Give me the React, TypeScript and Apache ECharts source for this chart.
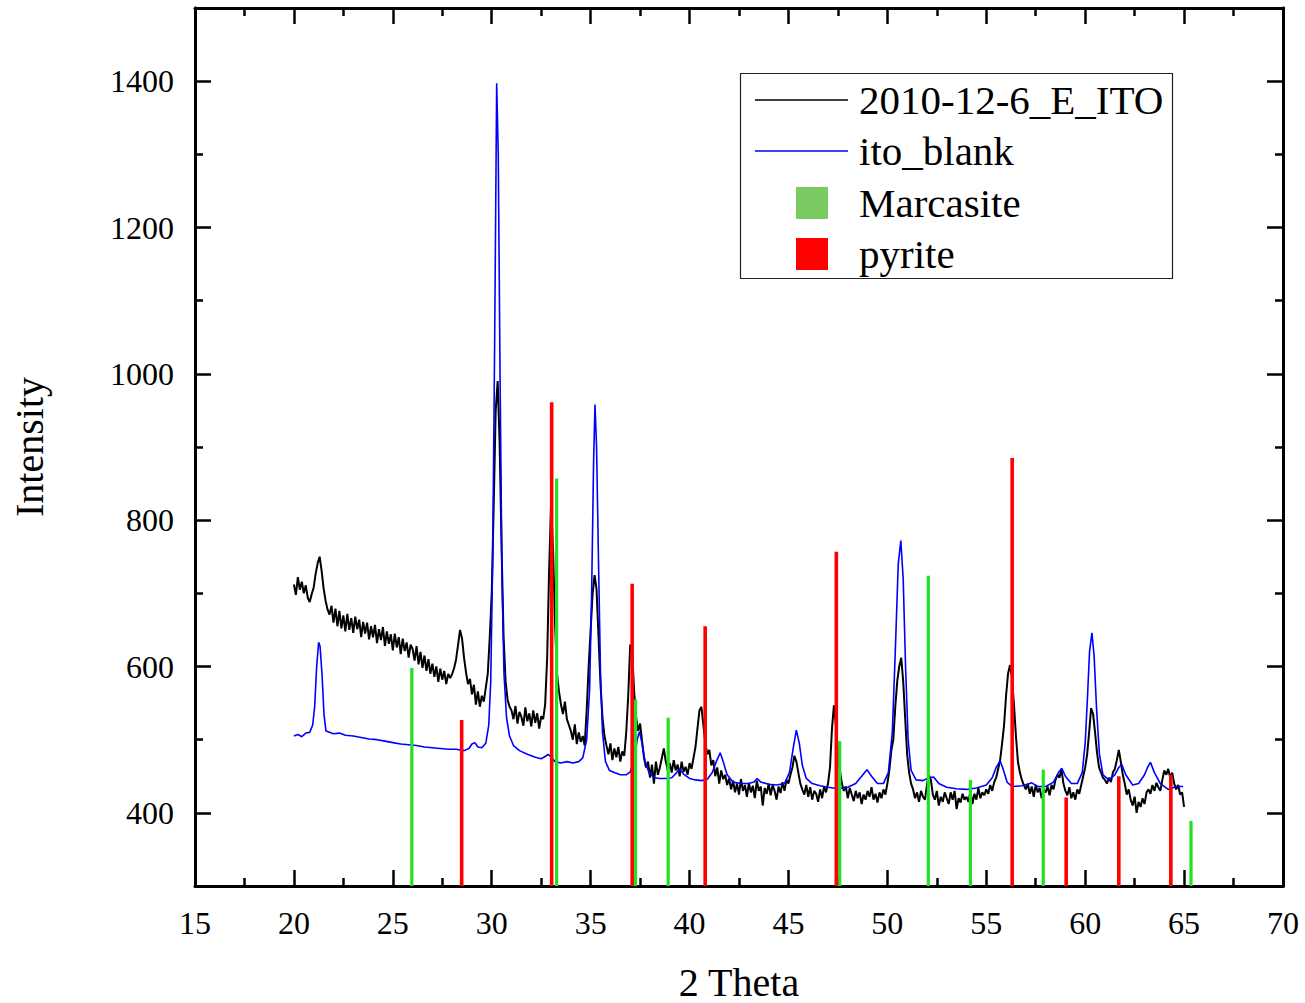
import React, { useEffect, useRef } from "react";
import * as echarts from "echarts";

// ---- Data ----
// Black sample curve: intensities on a uniform 2θ grid (start 20.0, step 0.1)
const sampleName = "2010-12-6_E_ITO";
const sampleStart = 20.0;
const sampleStep = 0.1;
const sampleY = [
  712, 698, 722, 705, 716, 700, 711, 694, 688, 699,
  708, 727, 741, 750, 731, 707, 690, 678, 671, 683,
  660, 679, 655, 676, 652, 670, 648, 672, 650, 666,
  646, 668, 651, 664, 640, 661, 645, 660, 637, 655,
  640, 657, 632, 651, 636, 654, 628, 648, 631, 644,
  622, 645, 626, 640, 617, 638, 621, 633, 612, 630,
  624, 608, 628, 603, 620, 598, 615, 594, 610, 590,
  604, 586, 600, 579, 597, 582, 594, 576, 590, 584,
  590, 598, 610, 630, 650, 638, 612, 592, 576, 583,
  562, 575, 548, 566, 545, 560, 552, 571, 590, 640,
  700, 820, 950, 990, 905, 760, 640, 580, 555, 545,
  540, 528, 546, 522, 538, 531, 519, 544, 525, 536,
  518, 540, 523, 536, 515, 532, 528, 548, 610, 730,
  822, 760, 660, 590, 566, 548, 535, 552, 528, 520,
  512, 500, 521, 494, 510, 497, 505, 492, 540, 600,
  650, 700, 725, 705, 640, 575, 530, 505, 492, 480,
  495, 472, 488, 476, 490, 470, 484, 478, 510, 560,
  630, 620, 565, 530, 512, 522, 498, 475, 462, 470,
  448, 466, 440, 470, 452, 462, 475, 488, 470, 458,
  468, 455, 472, 458, 466, 450, 470, 456, 463, 452,
  468, 460, 475, 490, 515, 540, 545, 520, 495, 480,
  486, 465, 472, 450, 462, 440, 458, 446, 452, 438,
  447, 432, 444, 428, 440, 425, 446, 430, 438, 422,
  441, 428, 437, 420, 444, 430, 436, 410, 434, 426,
  440, 424, 438, 430, 418, 436, 427, 442, 430, 445,
  440, 452, 462, 478, 470, 455, 440, 432, 425, 438,
  422, 435, 418, 430, 426, 415, 432, 420, 436, 428,
  440, 462, 515, 547, 520, 482, 458, 440, 430, 436,
  420, 434, 425, 416, 430, 420, 428, 412, 425, 418,
  430, 422, 435, 418, 426, 414, 428, 420, 432, 425,
  440, 458, 485, 500, 545, 580, 600, 612, 580, 530,
  480, 455, 440, 432, 420, 428, 415, 430, 422, 418,
  438, 452, 445, 425, 418, 430, 410, 422, 415, 428,
  420, 412, 428, 418, 430, 405, 420, 414, 426, 418,
  422, 415, 430, 412, 426, 418, 434, 420, 428, 424,
  432, 426, 438, 430, 442, 448, 460, 472, 495, 520,
  560, 590, 602, 585, 548, 505, 470, 455, 445, 438,
  432, 440, 426, 436, 422, 438, 428, 434, 420, 432,
  428, 436, 424, 438, 432, 445, 452, 448, 460, 440,
  430, 424, 435, 420, 428, 418, 432, 426, 438, 450,
  462, 480, 510, 543, 535, 510, 482, 462, 455, 448,
  445, 440, 448, 442, 455, 460, 472, 486, 470, 452,
  440, 425, 432, 418, 410, 422, 400, 415, 408, 420,
  412, 428, 432, 426, 438, 430, 441, 435, 430, 445,
  458, 452, 460, 448, 455, 440, 432, 438, 425, 428,
  408,
];

// Blue blank curve: [2θ, intensity]
const blankName = "ito_blank";
const blankData: [number, number][] = [
  [20.0, 505], [20.2, 507], [20.4, 504], [20.6, 509], [20.8, 510], [20.95, 520],
  [21.05, 545], [21.15, 600], [21.25, 633], [21.32, 628], [21.42, 590], [21.52, 535],
  [21.62, 512], [21.8, 510], [22.0, 508], [22.3, 509], [22.6, 506], [23.0, 505],
  [23.4, 503], [23.8, 501], [24.2, 500], [24.6, 498], [25.0, 496], [25.4, 494],
  [25.8, 493], [26.2, 492], [26.6, 490], [27.0, 489], [27.4, 488], [27.8, 487],
  [28.2, 487], [28.6, 485], [28.85, 488], [29.0, 494], [29.15, 496], [29.3, 490],
  [29.5, 489], [29.7, 495], [29.85, 520], [29.95, 580], [30.05, 750], [30.15, 1050],
  [30.25, 1397], [30.33, 1300], [30.42, 1000], [30.52, 720], [30.62, 590], [30.75, 530],
  [30.9, 505], [31.1, 492], [31.4, 485], [31.8, 480], [32.2, 476], [32.5, 474],
  [32.7, 477], [32.85, 480], [33.0, 476], [33.2, 470], [33.5, 468], [33.8, 470],
  [34.1, 468], [34.4, 470], [34.6, 475], [34.8, 500], [34.95, 570], [35.05, 700],
  [35.15, 880], [35.22, 958], [35.3, 900], [35.4, 740], [35.5, 590], [35.6, 510],
  [35.75, 470], [35.95, 458], [36.2, 455], [36.5, 452], [36.8, 452], [37.0, 456],
  [37.2, 470], [37.35, 500], [37.47, 511], [37.6, 495], [37.75, 470], [37.95, 455],
  [38.2, 448], [38.5, 447], [38.8, 447], [39.1, 448], [39.35, 455], [39.5, 460],
  [39.7, 453], [40.0, 447], [40.3, 445], [40.6, 444], [40.9, 446], [41.15, 455],
  [41.35, 470], [41.55, 482], [41.7, 470], [41.9, 452], [42.2, 442], [42.6, 440],
  [43.0, 440], [43.25, 442], [43.42, 447], [43.6, 442], [44.0, 439], [44.4, 438],
  [44.8, 440], [45.05, 455], [45.25, 490], [45.4, 513], [45.55, 495], [45.7, 465],
  [45.9, 447], [46.2, 440], [46.6, 437], [47.0, 435], [47.5, 433], [48.0, 435],
  [48.4, 440], [48.7, 450], [48.97, 459], [49.2, 450], [49.5, 440], [49.8, 440],
  [50.05, 455], [50.25, 510], [50.4, 620], [50.55, 740], [50.68, 772], [50.8, 720],
  [50.92, 600], [51.05, 500], [51.2, 458], [51.45, 445], [51.8, 444], [52.1, 448],
  [52.34, 449], [52.6, 440], [53.0, 435], [53.5, 433], [54.0, 432], [54.5, 434],
  [55.0, 438], [55.3, 448], [55.5, 462], [55.7, 471], [55.85, 460], [56.05, 442],
  [56.3, 436], [56.8, 437], [57.1, 439], [57.3, 441], [57.6, 436], [58.0, 436],
  [58.4, 442], [58.65, 455], [58.82, 461], [59.0, 450], [59.3, 440], [59.6, 440],
  [59.85, 455], [60.0, 495], [60.12, 560], [60.22, 620], [60.34, 646], [60.45, 615],
  [60.58, 540], [60.72, 480], [60.9, 452], [61.2, 445], [61.5, 452], [61.7, 462],
  [61.85, 466], [62.05, 452], [62.4, 438], [62.7, 440], [63.0, 452], [63.15, 462],
  [63.3, 469], [63.5, 455], [63.8, 440], [64.2, 432], [64.6, 436], [64.95, 436],
];

// Reference patterns (stick positions and heights)
const marcasiteName = "Marcasite";
const marcasiteX = [25.96, 33.28, 37.27, 38.92, 47.59, 52.07, 54.2, 57.88, 65.35];
const marcasiteY = [598, 857, 555, 530, 498, 724, 445, 459, 389];

const pyriteName = "pyrite";
const pyriteX = [28.48, 33.03, 37.1, 40.79, 47.42, 56.31, 59.04, 61.7, 64.33];
const pyriteY = [527, 961, 713, 655, 757, 885, 421, 450, 452];

// Axis settings
const xMin = 15;
const xMax = 70;
const xInterval = 5;
const yMin = 300;
const yMax = 1500;
const yMajorTicks = [400, 600, 800, 1000, 1200, 1400];
const yMinorTicks = [300, 500, 700, 900, 1100, 1300, 1500];

const FONT = "Liberation Serif";

export default function App() {
  const ref = useRef<HTMLDivElement>(null);

  useEffect(() => {
    document.body.style.margin = "0";
    document.body.style.overflow = "hidden";
    if (!ref.current) return;
    const chart = echarts.init(ref.current, null, { renderer: "svg" });

    const sampleData = sampleY.map((y, i) => [
      +(sampleStart + i * sampleStep).toFixed(2),
      y,
    ]);
    const marcData = marcasiteX.map((x, i) => [x, marcasiteY[i]]);
    const pyrData = pyriteX.map((x, i) => [x, pyriteY[i]]);

    const stickRender = (width: number) => (params: any, api: any) => {
      const x = api.value(0);
      const y = api.value(1);
      const top = api.coord([x, y]);
      const bottom = api.coord([x, yMin]);
      return {
        type: "rect",
        shape: {
          x: top[0] - width / 2,
          y: top[1],
          width: width,
          height: bottom[1] - top[1],
        },
        style: { fill: api.visual("color") },
      };
    };

    const tickStyle = { color: "#000", width: 2.5 };
    const axisLine = { show: true, onZero: false, lineStyle: { color: "#000", width: 3 } };
    const plainNum = (v: number) => String(v);
    const labelStyle = {
      show: true,
      fontSize: 32,
      color: "#000",
      fontFamily: FONT,
      formatter: plainNum,
    };
    const lineIcon = "path://M0,0 L93,0 L93,1.6 L0,1.6 Z";

    const yBase = {
      type: "value" as const,
      min: yMin,
      max: yMax,
      splitLine: { show: false },
      axisLine,
    };

    const option: any = {
      animation: false,
      backgroundColor: "#fff",
      textStyle: { fontFamily: FONT },
      grid: {
        left: 195,
        top: 8,
        width: 1088,
        height: 878,
        containLabel: false,
        outerBoundsMode: "none",
      },
      legend: [
        {
          left: 750,
          top: 73,
          orient: "vertical",
          itemWidth: 93,
          itemHeight: 44,
          itemGap: 7,
          selectedMode: false,
          data: [
            { name: sampleName, icon: lineIcon, itemStyle: { color: "#000" } },
            { name: blankName, icon: lineIcon, itemStyle: { color: "#0000ff" } },
          ],
          textStyle: {
            fontFamily: FONT,
            fontSize: 41,
            color: "#000",
            lineHeight: 44,
            padding: [0, 0, 0, 6],
          },
        },
        {
          left: 791,
          top: 176,
          orient: "vertical",
          itemWidth: 32,
          itemHeight: 32,
          itemGap: 7,
          selectedMode: false,
          data: [
            { name: marcasiteName, icon: "rect", itemStyle: { color: "#7acb62" } },
            { name: pyriteName, icon: "rect", itemStyle: { color: "#ff0000" } },
          ],
          textStyle: {
            fontFamily: FONT,
            fontSize: 41,
            color: "#000",
            lineHeight: 44,
            padding: [0, 0, 0, 26],
          },
        },
      ],
      graphic: [
        {
          type: "rect",
          shape: { x: 740.5, y: 73.5, width: 432, height: 205 },
          style: { fill: "none", stroke: "#222", lineWidth: 1.2 },
          z: 0,
        },
      ],
      xAxis: [
        {
          type: "value",
          position: "bottom",
          min: xMin,
          max: xMax,
          interval: xInterval,
          splitLine: { show: false },
          axisLine,
          axisTick: { show: true, inside: true, length: 16, lineStyle: tickStyle },
          minorTick: { show: true, splitNumber: 2, length: 8, lineStyle: tickStyle },
          axisLabel: { ...labelStyle, margin: 21 },
          name: "2 Theta",
          nameLocation: "middle",
          nameGap: 76,
          nameTextStyle: { fontSize: 40, lineHeight: 40, color: "#000", fontFamily: FONT },
        },
        {
          type: "value",
          position: "top",
          min: xMin,
          max: xMax,
          interval: xInterval,
          splitLine: { show: false },
          axisLine,
          axisTick: { show: true, inside: true, length: 16, lineStyle: tickStyle },
          minorTick: { show: true, splitNumber: 2, length: 8, lineStyle: tickStyle },
          axisLabel: { show: false },
        },
      ],
      yAxis: [
        {
          ...yBase,
          position: "left",
          axisTick: {
            show: true,
            inside: true,
            length: 16,
            lineStyle: tickStyle,
            customValues: yMajorTicks,
          },
          axisLabel: { ...labelStyle, margin: 21, customValues: yMajorTicks },
          name: "Intensity",
          nameLocation: "middle",
          nameGap: 146,
          nameTextStyle: { fontSize: 40, color: "#000", fontFamily: FONT },
        },
        {
          ...yBase,
          position: "left",
          axisTick: {
            show: true,
            inside: true,
            length: 8,
            lineStyle: tickStyle,
            customValues: yMinorTicks,
          },
          axisLabel: { show: false },
        },
        {
          ...yBase,
          position: "right",
          axisTick: {
            show: true,
            inside: true,
            length: 16,
            lineStyle: tickStyle,
            customValues: yMajorTicks,
          },
          axisLabel: { show: false },
        },
        {
          ...yBase,
          position: "right",
          axisTick: {
            show: true,
            inside: true,
            length: 8,
            lineStyle: tickStyle,
            customValues: yMinorTicks,
          },
          axisLabel: { show: false },
        },
      ],
      series: [
        {
          name: sampleName,
          type: "line",
          xAxisIndex: 0,
          yAxisIndex: 0,
          data: sampleData,
          symbol: "none",
          showSymbol: false,
          color: "#000",
          lineStyle: { color: "#000", width: 2 },
          clip: true,
          z: 2,
        },
        {
          name: blankName,
          type: "line",
          xAxisIndex: 0,
          yAxisIndex: 0,
          data: blankData,
          symbol: "none",
          showSymbol: false,
          color: "#0000ff",
          lineStyle: { color: "#0000ff", width: 1.6 },
          clip: true,
          z: 3,
        },
        {
          name: marcasiteName,
          type: "custom",
          xAxisIndex: 0,
          yAxisIndex: 0,
          data: marcData,
          itemStyle: { color: "#22e022" },
          renderItem: stickRender(3.2),
          encode: { x: 0, y: 1 },
          clip: true,
          z: 4,
        },
        {
          name: pyriteName,
          type: "custom",
          xAxisIndex: 0,
          yAxisIndex: 0,
          data: pyrData,
          itemStyle: { color: "#ff0000" },
          renderItem: stickRender(3.6),
          encode: { x: 0, y: 1 },
          clip: true,
          z: 5,
        },
      ],
    };

    chart.setOption(option);
    return () => {
      chart.dispose();
    };
  }, []);

  return <div ref={ref} style={{ width: 1305, height: 1003, background: "#fff" }} />;
}
